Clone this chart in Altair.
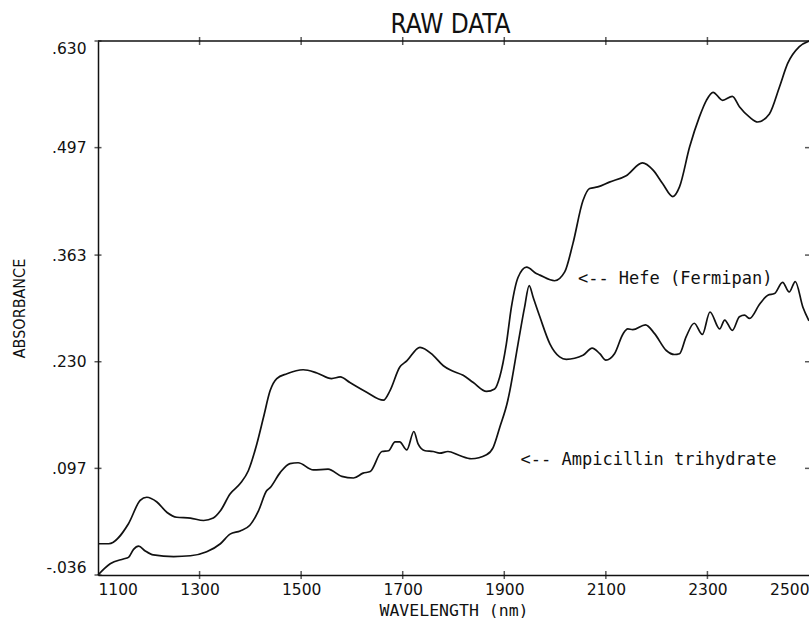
import altair as alt
import pandas as pd

# ---- data ----
hefe_nm = [1100, 1121, 1160, 1183, 1196, 1216, 1236, 1255, 1282, 1308, 1327, 1341, 1360, 1380,
           1396, 1413, 1426, 1439, 1452, 1472, 1504, 1531, 1560, 1577, 1596, 1629, 1662, 1675,
           1694, 1708, 1734, 1760, 1780, 1796, 1819, 1839, 1865, 1881, 1891, 1904, 1914, 1927,
           1944, 1963, 1970, 1999, 2019, 2035, 2055, 2068, 2084, 2107, 2140, 2172, 2193, 2212,
           2232, 2245, 2265, 2284, 2298, 2311, 2330, 2349, 2363, 2383, 2399, 2422, 2442, 2458,
           2481, 2500]
hefe_abs = [0.003, 0.003, 0.028, 0.057, 0.061, 0.055, 0.042, 0.036, 0.035, 0.032, 0.035, 0.044,
            0.065, 0.078, 0.094, 0.128, 0.161, 0.194, 0.209, 0.215, 0.220, 0.216, 0.209, 0.211,
            0.204, 0.192, 0.182, 0.194, 0.223, 0.231, 0.248, 0.238, 0.225, 0.219, 0.213, 0.204,
            0.193, 0.196, 0.211, 0.252, 0.298, 0.335, 0.348, 0.340, 0.338, 0.331, 0.342, 0.377,
            0.431, 0.446, 0.448, 0.454, 0.462, 0.478, 0.469, 0.452, 0.436, 0.448, 0.498, 0.535,
            0.556, 0.566, 0.556, 0.561, 0.548, 0.535, 0.529, 0.539, 0.573, 0.602, 0.623, 0.630]

amp_nm = [1100, 1124, 1150, 1160, 1170, 1180, 1193, 1209, 1249, 1282, 1314, 1341, 1360, 1380,
          1399, 1416, 1432, 1439, 1459, 1478, 1494, 1524, 1553, 1580, 1603, 1622, 1636, 1659,
          1672, 1685, 1694, 1708, 1722, 1730, 1744, 1760, 1773, 1789, 1812, 1835, 1865, 1878,
          1891, 1907, 1911, 1927, 1940, 1949, 1957, 1970, 1990, 2009, 2022, 2055, 2073, 2088,
          2100, 2117, 2134, 2143, 2153, 2178, 2196, 2219, 2235, 2245, 2258, 2274, 2290, 2305,
          2324, 2334, 2349, 2363, 2373, 2383, 2403, 2419, 2432, 2448, 2461, 2473, 2488, 2500]
amp_abs = [-0.036, -0.022, -0.016, -0.014, -0.004, 0.000, -0.006, -0.011, -0.013, -0.012, -0.007,
           0.003, 0.015, 0.019, 0.026, 0.044, 0.069, 0.073, 0.092, 0.103, 0.104, 0.095, 0.096,
           0.087, 0.085, 0.091, 0.093, 0.118, 0.119, 0.130, 0.130, 0.120, 0.143, 0.128, 0.119,
           0.118, 0.116, 0.118, 0.113, 0.109, 0.114, 0.123, 0.148, 0.182, 0.194, 0.252, 0.298,
           0.325, 0.310, 0.286, 0.252, 0.236, 0.233, 0.238, 0.247, 0.240, 0.232, 0.240, 0.265,
           0.271, 0.270, 0.276, 0.265, 0.244, 0.239, 0.240, 0.261, 0.278, 0.264, 0.292, 0.271,
           0.282, 0.269, 0.286, 0.288, 0.284, 0.302, 0.313, 0.315, 0.329, 0.317, 0.330, 0.298,
           0.281]

series_names = ["Hefe (Fermipan)", "Ampicillin trihydrate"]
note_texts = ["<-- Hefe (Fermipan)", "<-- Ampicillin trihydrate"]
note_nm = [2045, 1932]
note_abs = [0.333, 0.108]

x_ticks = [1100, 1300, 1500, 1700, 1900, 2100, 2300, 2500]
y_ticks = [-0.036, 0.097, 0.230, 0.363, 0.497, 0.630]
x_domain = [1100, 2500]
y_domain = [-0.036, 0.630]

# ---- tables ----
spec_df = pd.concat([
    pd.DataFrame({"nm": hefe_nm, "abs": hefe_abs, "series": series_names[0]}),
    pd.DataFrame({"nm": amp_nm, "abs": amp_abs, "series": series_names[1]}),
])
notes_df = pd.DataFrame({"nm": note_nm, "abs": note_abs, "text": note_texts})
left_ticks_df = pd.DataFrame({"nm": x_domain[0], "abs": y_ticks})
right_ticks_df = pd.DataFrame({"nm": x_domain[1], "abs": y_ticks[1:-1]})
top_ticks_df = pd.DataFrame({"nm": x_ticks[1:-1], "abs": y_domain[1]})
bot_ticks_df = pd.DataFrame({"nm": x_ticks[1:-1], "abs": y_domain[0]})
top_line_df = pd.DataFrame({"abs": [y_domain[1]]})

TICK_FONT = "DejaVu Sans"
COND_FONT = "DejaVu Sans Condensed, Liberation Sans Narrow, DejaVu Sans"
MONO = "DejaVu Sans Mono"
INK = "#111111"

xscale = alt.Scale(domain=x_domain, nice=False, zero=False)
yscale = alt.Scale(domain=y_domain, nice=False, zero=False)

xaxis = alt.Axis(values=x_ticks, format="d", labelFlush=True, ticks=False, grid=False,
                 domainColor=INK, domainWidth=1.5, labelFont=TICK_FONT, labelFontSize=15.5,
                 labelColor=INK, labelPadding=7, title="WAVELENGTH (nm)", titleFont=MONO,
                 titleFontSize=16.5, titleFontWeight="normal", titleColor=INK,
                 titleY=35, titleBaseline="middle")
yaxis = alt.Axis(values=y_ticks,
                 labelExpr="replace(replace(format(datum.value, '.3f'), '0.', '.'), '\u2212', '-')",
                 labelFlush=True, ticks=False, grid=False, domainColor=INK, domainWidth=1.5,
                 labelFont=TICK_FONT, labelFontSize=15.5, labelColor=INK, labelPadding=12,
                 title="ABSORBANCE", titleFont=COND_FONT, titleFontSize=16,
                 titleFontWeight="normal", titleColor=INK, titleX=-79, titleY=267,
                 titleAlign="center", titleBaseline="middle", titleAngle=270)


def X():
    return alt.X("nm:Q", scale=xscale, axis=xaxis)


def Y():
    return alt.Y("abs:Q", scale=yscale, axis=yaxis)


lines = alt.Chart(spec_df).mark_line(color=INK, strokeWidth=1.7, interpolate="monotone").encode(
    x=X(), y=Y(), detail="series:N")

notes = alt.Chart(notes_df).mark_text(align="left", baseline="middle", font=MONO, fontSize=17,
                                      color=INK).encode(x=X(), y=Y(), text="text:N")

left_t = alt.Chart(left_ticks_df).mark_tick(orient="horizontal", size=7, thickness=1.5,
                                            color=INK).encode(x=X(), y=Y())
right_t = alt.Chart(right_ticks_df).mark_tick(orient="horizontal", size=8, thickness=1.5,
                                              color=INK).encode(x=X(), y=Y())
top_t = alt.Chart(top_ticks_df).mark_tick(orient="vertical", size=8, thickness=1.5,
                                          color=INK).encode(x=X(), y=Y())
bot_t = alt.Chart(bot_ticks_df).mark_tick(orient="vertical", size=8, thickness=1.5,
                                          color=INK).encode(x=X(), y=Y())
top_line = alt.Chart(top_line_df).mark_rule(color=INK, strokeWidth=1.5).encode(y=Y())

chart = alt.layer(top_line, left_t, right_t, top_t, bot_t, lines, notes).properties(
    width=711, height=534,
    title=alt.Title("RAW DATA", font=COND_FONT, fontSize=26, fontWeight="normal",
                    color=INK, anchor="middle", offset=-1, dx=-3),
    padding={"left": 98, "top": 41, "right": 0, "bottom": 43},
    autosize=alt.AutoSizeParams(type="none"),
    background="white",
).configure_view(stroke=None)

chart.save("out.html", embed_options={"renderer": "svg", "actions": False})
